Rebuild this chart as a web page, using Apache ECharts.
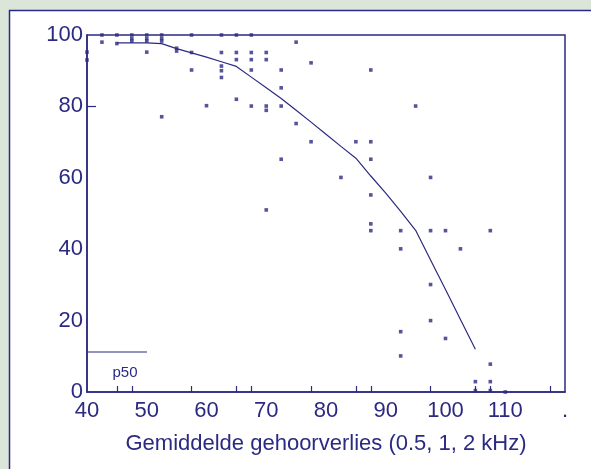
<!DOCTYPE html>
<html>
<head>
<meta charset="utf-8">
<script src="https://cdn.jsdelivr.net/npm/echarts@6/dist/echarts.min.js"></script>
<style>
html,body{margin:0;padding:0;background:#dbe5d9;}
#c{width:591px;height:469px;}
</style>
</head>
<body>
<div id="c"></div>
<script>
// Scatter observations (hearing loss dB, score %)
const pointX = [
  42.5, 45, 47.5, 50, 52.5, 57.5, 62.5, 65, 67.5,
  47.5, 50, 52.5, 47.5, 50, 52.5,
  42.5, 45, 75,
  40, 40, 50, 55, 55, 57.5, 62.5, 65, 67.5, 70,
  65, 67.5, 70, 77.5,
  62.5, 62.5, 62.5, 57.5, 67.5, 72.5, 87.5,
  72.5,
  60, 65, 67.5, 70, 70, 72.5, 95,
  52.5, 75,
  77.5, 85, 87.5,
  72.5, 87.5,
  82.5, 97.5,
  87.5, 70,
  87.5, 87.5, 92.5, 97.5, 100, 107.5,
  92.5, 102.5,
  97.5, 97.5, 92.5, 100, 92.5, 107.5,
  105, 107.5, 105, 107.5, 110
];
const pointY = [
  100, 100, 100, 100, 100, 100, 100, 100, 100,
  99, 99, 99, 98.3, 98.3, 98.3,
  98, 97.6, 98,
  95.2, 93, 95.2, 96.3, 95.5, 95.1, 95.1, 95.1, 95.1, 95.1,
  93.1, 93.1, 93.1, 92.2,
  91.3, 90, 88.1, 90.2, 90.2, 90.2, 90.2,
  85.2,
  80.2, 82, 80.1, 80.1, 78.9, 80.1, 80.1,
  77.1, 75.2,
  70.1, 70.1, 70.1,
  65.2, 65.2,
  60.1, 60.1,
  55.2, 51,
  47.1, 45.2, 45.2, 45.2, 45.2, 45.2,
  40.1, 40.1,
  30.1, 20, 16.9, 15, 10.1, 7.8,
  2.9, 2.9, 0.4, 0.4, 0
];
// p50 curve
const curveX = [45, 47.5, 50, 52.5, 55, 57.5, 60, 62.5, 65, 67.5, 70, 72.5, 75, 77.5, 80, 82.5, 85, 87.5, 90, 92.5, 95, 97.5, 100, 102.5, 105];
const curveY = [97.8, 97.8, 97.8, 97.6, 96.2, 95.0, 93.8, 92.5, 91.2, 88.2, 85.2, 82.2, 78.9, 75.6, 72.2, 68.8, 65.5, 60.5, 55.7, 50.6, 45.3, 37.0, 28.7, 20.3, 12.0];
// axis ticks
const xTickMarks = [45, 47.5, 57.5, 65, 67.5, 77.5, 85, 87.5, 97.5, 105, 107.5, 117.5];
const yTickMarks = [80];
const xAxisTitle = 'Gemiddelde gehoorverlies (0.5, 1, 2 kHz)';
const legendLabel = 'p50';

const ink = '#2b2a82';
const font = '"Liberation Sans", Arial, sans-serif';

const chart = echarts.init(document.getElementById('c'));
chart.setOption({
  backgroundColor: '#dbe5d9',
  animation: false,
  graphic: [
    { type: 'rect', z: -10, silent: true,
      shape: { x: 9.5, y: 10.5, width: 600, height: 480 },
      style: { fill: '#ffffff', stroke: ink, lineWidth: 1.5 } },
    { type: 'line', z: 10, silent: true,
      shape: { x1: 87, y1: 352, x2: 147, y2: 352 },
      style: { stroke: ink, lineWidth: 1.2 } },
    { type: 'text', z: 10, silent: true, x: 125, y: 373,
      style: { text: legendLabel, fill: ink, font: '15px ' + font, align: 'center', verticalAlign: 'middle' } }
  ],
  grid: { left: 87, top: 35, right: 26, bottom: 77, show: true, borderColor: ink, borderWidth: 1.5, backgroundColor: 'transparent' },
  xAxis: {
    type: 'value', min: 40, max: 120, interval: 10,
    splitLine: { show: false },
    axisLine: { lineStyle: { color: ink, width: 1.5 } },
    axisTick: { show: true, inside: true, length: 6, customValues: xTickMarks, lineStyle: { color: ink, width: 1.2 } },
    axisLabel: { color: ink, fontSize: 22, fontFamily: font, margin: 8,
      formatter: v => (v === 120 ? '.' : String(v)) },
    name: xAxisTitle, nameLocation: 'middle', nameGap: 41,
    nameTextStyle: { color: ink, fontSize: 22, fontFamily: font }
  },
  yAxis: {
    type: 'value', min: 0, max: 100, interval: 20,
    splitLine: { show: false },
    axisLine: { lineStyle: { color: ink, width: 1.5 } },
    axisTick: { show: true, inside: true, length: 9, customValues: yTickMarks, lineStyle: { color: ink, width: 1.2 } },
    axisLabel: { color: ink, fontSize: 22, fontFamily: font, margin: 4 }
  },
  series: [
    { type: 'line', data: curveX.map((x, i) => [x, curveY[i]]), symbol: 'none',
      lineStyle: { color: ink, width: 1.2 }, z: 3 },
    { type: 'scatter', data: pointX.map((x, i) => [x, pointY[i]]), symbol: 'rect', symbolSize: 3.6,
      itemStyle: { color: ink }, z: 4 }
  ]
});
</script>
</body>
</html>
